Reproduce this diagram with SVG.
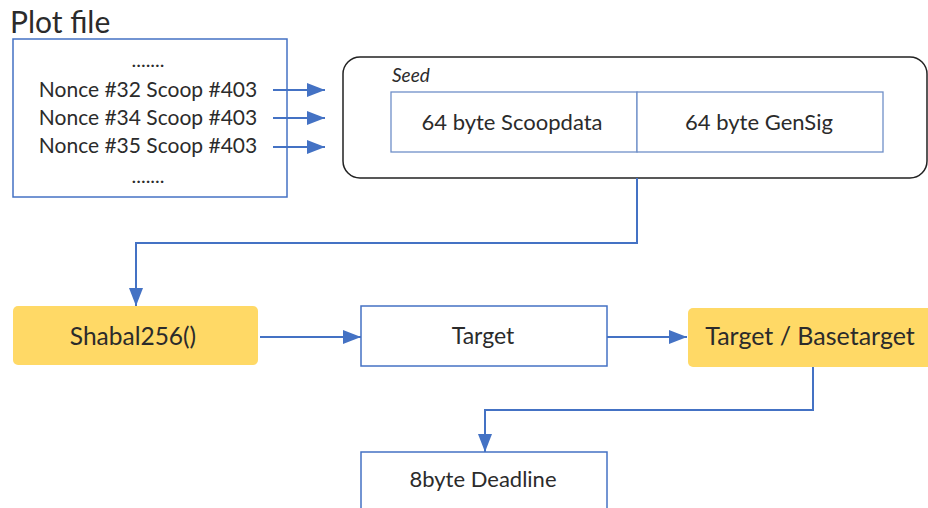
<svg xmlns="http://www.w3.org/2000/svg" width="928" height="508" viewBox="0 0 928 508">
  <defs>
    <marker id="arr" markerUnits="userSpaceOnUse" markerWidth="18" markerHeight="14" refX="18" refY="7" orient="auto">
      <path d="M0,0 L18,7 L0,14 Z" fill="#4472C4"/>
    </marker>
    <style>
      .t { font-family: Lato, "Liberation Sans", Arial, sans-serif; fill: #2b2b2b; }
      .c { text-anchor: middle; }
      .box { fill: #ffffff; stroke: #4472C4; stroke-width: 1.5; }
      .gold { fill: #FFD966; stroke: none; }
      .conn { fill: none; stroke: #4472C4; stroke-width: 2; marker-end: url(#arr); }
    </style>
  </defs>
  <rect width="928" height="508" fill="#ffffff"/>

  <text class="t" x="10" y="33" font-size="30">Plot file</text>

  <g id="plotfile">
    <rect class="box" x="13" y="39" width="274" height="158"/>
    <text class="t c" x="148" y="67" font-size="20">.......</text>
    <text class="t c" x="148" y="97" font-size="21">Nonce #32 Scoop #403</text>
    <text class="t c" x="148" y="125" font-size="21">Nonce #34 Scoop #403</text>
    <text class="t c" x="148" y="153" font-size="21">Nonce #35 Scoop #403</text>
    <text class="t c" x="148" y="183" font-size="20">.......</text>
  </g>

  <g id="seed">
    <rect x="343" y="57" width="584" height="121" rx="17" ry="17" fill="#ffffff" stroke="#222222" stroke-width="1.5"/>
    <text class="t" x="392" y="82" font-size="19" font-style="italic">Seed</text>
    <g id="scoopdata">
      <rect x="391" y="92" width="246" height="60" fill="#ffffff" stroke="#6F8FC8" stroke-width="1.3"/>
      <text class="t c" x="512" y="129.5" font-size="22">64 byte Scoopdata</text>
    </g>
    <g id="gensig">
      <rect x="637" y="92" width="246" height="60" fill="#ffffff" stroke="#6F8FC8" stroke-width="1.3"/>
      <text class="t c" x="759" y="129.5" font-size="22">64 byte GenSig</text>
    </g>
  </g>

  <g id="shabal">
    <rect class="gold" x="13" y="306" width="245" height="59" rx="5" ry="5"/>
    <text class="t c" x="133" y="345" font-size="24.5">Shabal256()</text>
  </g>

  <g id="target">
    <rect class="box" x="361" y="306" width="246" height="60"/>
    <text class="t c" x="483" y="344" font-size="23">Target</text>
  </g>

  <g id="basetarget">
    <rect class="gold" x="688" y="308" width="245" height="59" rx="5" ry="5"/>
    <text class="t c" x="810" y="345" font-size="25">Target / Basetarget</text>
  </g>

  <g id="deadline">
    <rect class="box" x="361" y="452" width="246" height="70"/>
    <text class="t c" x="483" y="487" font-size="22">8byte Deadline</text>
  </g>

  <g id="connectors">
    <line class="conn" x1="273" y1="90" x2="325" y2="90"/>
    <line class="conn" x1="273" y1="118" x2="325" y2="118"/>
    <line class="conn" x1="273" y1="147" x2="325" y2="147"/>
    <polyline class="conn" points="637,178 637,243 136,243 136,306"/>
    <line class="conn" x1="260" y1="337" x2="361" y2="337"/>
    <line class="conn" x1="607" y1="337" x2="687" y2="337"/>
    <polyline class="conn" points="813,367 813,410 485,410 485,452"/>
  </g>
</svg>
